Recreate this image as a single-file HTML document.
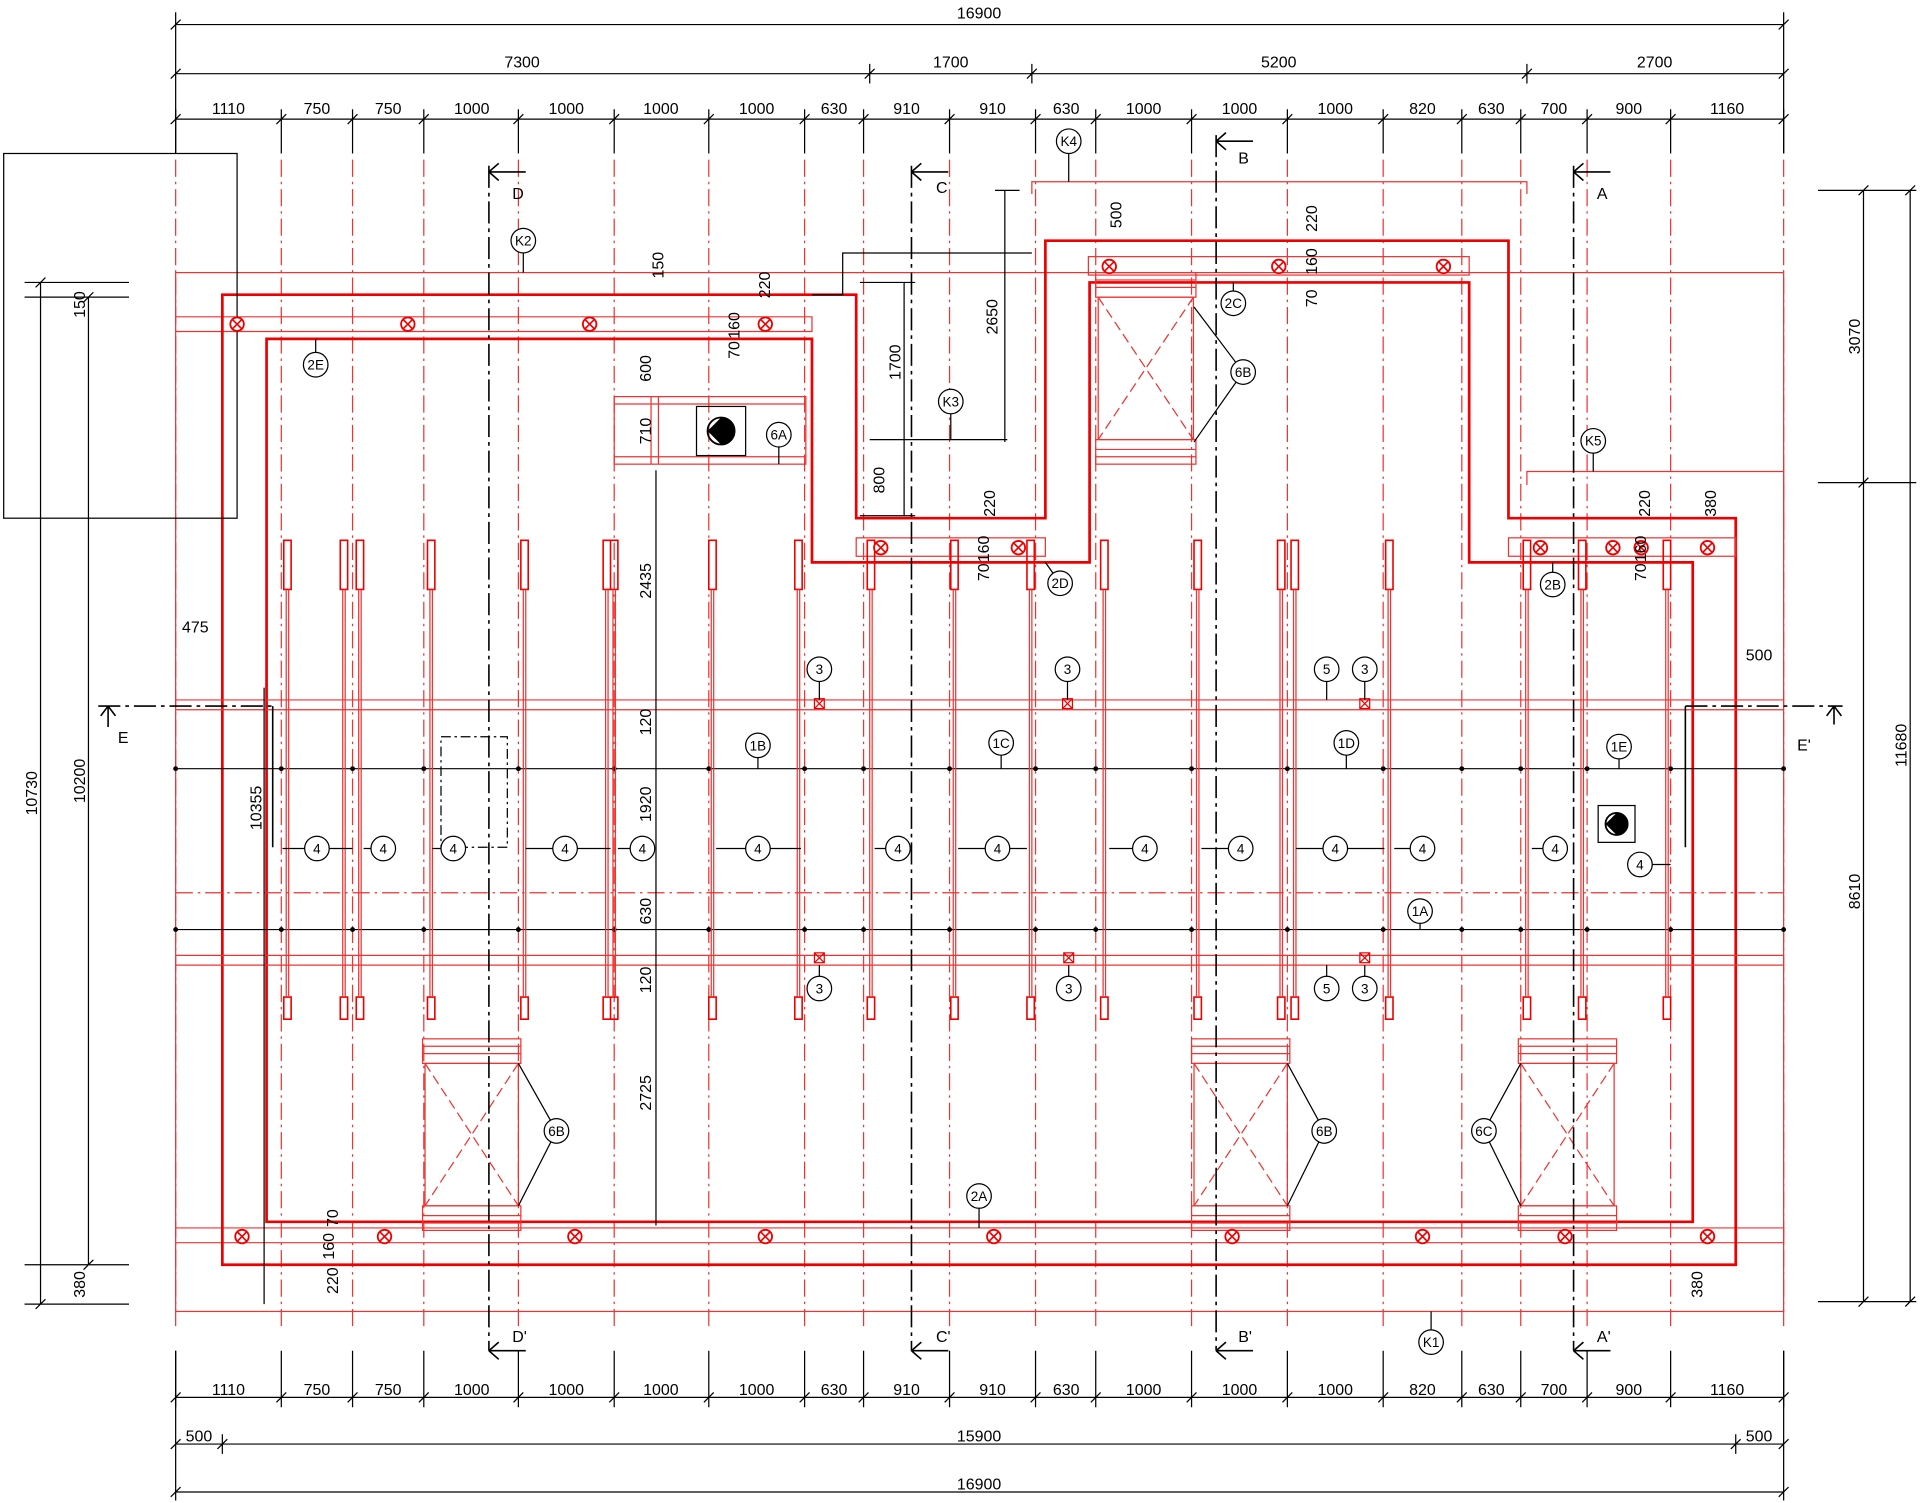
<!DOCTYPE html>
<html><head><meta charset="utf-8"><style>
html,body{margin:0;padding:0;background:#fff}
svg{display:block}
text{font-family:"Liberation Sans",sans-serif;font-size:13px;fill:#000}
.c text{font-size:11px;text-anchor:middle}
.cc circle{fill:#fff;stroke:#000;stroke-width:1}
</style></head><body>
<svg width="1920" height="1503" viewBox="0 0 1563 1224" preserveAspectRatio="none" xmlns="http://www.w3.org/2000/svg" xmlns:xlink="http://www.w3.org/1999/xlink">
<defs>
<g id="ox"><circle cx="0" cy="0" r="5.5" fill="#fff" stroke="#e00" stroke-width="1.5"/><path d="M-4-4L4 4M4-4L-4 4" stroke="#e00" stroke-width="1.3"/></g>
<g id="sx"><rect x="-4" y="-4" width="8" height="8" fill="none" stroke="#e00"/><path d="M-4-4L4 4M4-4L-4 4" stroke="#e00"/></g>
<g id="box6"><rect x="0" y="0" width="76" height="116" fill="none" stroke="#e33"/><rect x="-2" y="-20" width="80" height="20" fill="none" stroke="#e33"/><path d="M-2-14h80M-2-8h80M-2 124h80M-2 130h80" stroke="#e33" fill="none"/><rect x="-2" y="116" width="80" height="20" fill="none" stroke="#e33"/><path d="M0 0L76 116M76 0L0 116" stroke="#e33" stroke-dasharray="8,4" fill="none"/></g>
</defs>
<!-- grid -->
<path d="M143 130V1080M229 130V1080M287 130V1080M345 130V1080M422 130V1080M500 130V1080M577 130V1080M655 130V1080M703 130V1080M773 130V1080M843 130V1080M892 130V1080M970 130V1080M1048 130V1080M1126 130V1080M1190 130V1080M1238 130V1080M1292 130V1080M1360 130V1080M1452 130V1080" stroke="#e33" stroke-dasharray="14,4,2,4" fill="none"/>
<!-- dimension lines -->
<path d="M143 20H1452M143 60H1452M143 97H1452M143 1138H1452M143 1176H1452M143 1215H1452M143 10V125M1452 10V125M143 1100V1222M1452 1100V1222M708 52V68M840 52V68M1243 52V68M181 1168V1184M1413 1168V1184M139 24l8-8M1448 24l8-8M139 64l8-8M704 64l8-8M836 64l8-8M1239 64l8-8M1448 64l8-8M139 1219l8-8M1448 1219l8-8M139 1180l8-8M177 1180l8-8M1409 1180l8-8M1448 1180l8-8" stroke="#000" fill="none"/>
<path d="M143 89V125M229 89V125M287 89V125M345 89V125M422 89V125M500 89V125M577 89V125M655 89V125M703 89V125M773 89V125M843 89V125M892 89V125M970 89V125M1048 89V125M1126 89V125M1190 89V125M1238 89V125M1292 89V125M1360 89V125M1452 89V125M143 1100V1146M229 1100V1146M287 1100V1146M345 1100V1146M422 1100V1146M500 1100V1146M577 1100V1146M655 1100V1146M703 1100V1146M773 1100V1146M843 1100V1146M892 1100V1146M970 1100V1146M1048 1100V1146M1126 1100V1146M1190 1100V1146M1238 1100V1146M1292 1100V1146M1360 1100V1146M1452 1100V1146" stroke="#000" fill="none"/>
<path d="M139 101l8-8M225 101l8-8M283 101l8-8M341 101l8-8M418 101l8-8M496 101l8-8M573 101l8-8M651 101l8-8M699 101l8-8M769 101l8-8M839 101l8-8M888 101l8-8M966 101l8-8M1044 101l8-8M1122 101l8-8M1186 101l8-8M1234 101l8-8M1288 101l8-8M1356 101l8-8M1448 101l8-8M139 1142l8-8M225 1142l8-8M283 1142l8-8M341 1142l8-8M418 1142l8-8M496 1142l8-8M573 1142l8-8M651 1142l8-8M699 1142l8-8M769 1142l8-8M839 1142l8-8M888 1142l8-8M966 1142l8-8M1044 1142l8-8M1122 1142l8-8M1186 1142l8-8M1234 1142l8-8M1288 1142l8-8M1356 1142l8-8M1448 1142l8-8" stroke="#000" fill="none"/>
<!-- side dims -->
<path d="M1517 155V1060M1555 155V1060M1480 155H1560M1480 393H1560M1480 1060H1560M1513 159l8-8M1513 397l8-8M1513 1064l8-8M1551 159l8-8M1551 1064l8-8M33 230V1062M72 242V1030M20 230H105M20 242H105M20 1030H105M20 1062H105M29 234l8-8M29 1066l8-8M68 246l8-8M68 1034l8-8" stroke="#000" fill="none"/>
<!-- walls -->
<rect x="143" y="222" width="1309" height="846" fill="none" stroke="#e33"/>
<polyline points="143,258 661,258 661,270 143,270" fill="none" stroke="#e33"/>
<polyline points="143,1000 1452,1000 1452,1012 143,1012" fill="none" stroke="#e33"/>
<polygon points="181,240 697,240 697,422 851,422 851,196 1228,196 1228,422 1413,422 1413,1030 181,1030" fill="none" stroke="#e00" stroke-width="2.2"/>
<polygon points="217,276 661,276 661,458 887,458 887,230 1196,230 1196,458 1378,458 1378,995 217,995" fill="none" stroke="#e00" stroke-width="2.2"/>
<polyline points="840,158 840,148 1243,148 1243,158" fill="none" stroke="#e33"/>
<polyline points="1243,395 1243,384 1452,384 1452,440" fill="none" stroke="#e33"/>
<rect x="886" y="209" width="310" height="15" fill="none" stroke="#e33"/>
<rect x="697" y="438" width="154" height="15" fill="none" stroke="#e33"/>
<rect x="1228" y="438" width="185" height="15" fill="none" stroke="#e33"/>
<path d="M143 570H1452M143 578H1452M143 778H1452M143 786H1452" stroke="#e33" fill="none"/>
<line x1="143" y1="727" x2="1452" y2="727" stroke="#e33" stroke-dasharray="14,4,2,4"/>
<path d="M143 626H1452M143 757H1452" stroke="#000" fill="none"/>
<path d="M143 626h0M229 626h0M287 626h0M345 626h0M422 626h0M500 626h0M577 626h0M655 626h0M703 626h0M773 626h0M843 626h0M892 626h0M970 626h0M1048 626h0M1126 626h0M1190 626h0M1238 626h0M1292 626h0M1360 626h0M1452 626h0M143 757h0M229 757h0M287 757h0M345 757h0M422 757h0M500 757h0M577 757h0M655 757h0M703 757h0M773 757h0M843 757h0M892 757h0M970 757h0M1048 757h0M1126 757h0M1190 757h0M1238 757h0M1292 757h0M1360 757h0M1452 757h0" stroke="#000" stroke-width="4" stroke-linecap="round"/>
<!-- posts -->
<path d="M231 440h6v40h-6zM277 440h6v40h-6zM290 440h6v40h-6zM348 440h6v40h-6zM424 440h6v40h-6zM491 440h6v40h-6zM497 440h6v40h-6zM577 440h6v40h-6zM647 440h6v40h-6zM706 440h6v40h-6zM774 440h6v40h-6zM836 440h6v40h-6zM896 440h6v40h-6zM972 440h6v40h-6zM1040 440h6v40h-6zM1051 440h6v40h-6zM1128 440h6v40h-6zM1240 440h6v40h-6zM1285 440h6v40h-6zM1354 440h6v40h-6zM231 812h6v18h-6zM277 812h6v18h-6zM290 812h6v18h-6zM348 812h6v18h-6zM424 812h6v18h-6zM491 812h6v18h-6zM497 812h6v18h-6zM577 812h6v18h-6zM647 812h6v18h-6zM706 812h6v18h-6zM774 812h6v18h-6zM836 812h6v18h-6zM896 812h6v18h-6zM972 812h6v18h-6zM1040 812h6v18h-6zM1051 812h6v18h-6zM1128 812h6v18h-6zM1240 812h6v18h-6zM1285 812h6v18h-6zM1354 812h6v18h-6z" stroke="#e00" stroke-width="1.3" fill="none"/>
<path d="M233 480V812M235 480V812M279 480V812M281 480V812M292 480V812M294 480V812M350 480V812M352 480V812M426 480V812M428 480V812M493 480V812M495 480V812M499 480V812M501 480V812M579 480V812M581 480V812M649 480V812M651 480V812M708 480V812M710 480V812M776 480V812M778 480V812M838 480V812M840 480V812M898 480V812M900 480V812M974 480V812M976 480V812M1042 480V812M1044 480V812M1053 480V812M1055 480V812M1130 480V812M1132 480V812M1242 480V812M1244 480V812M1287 480V812M1289 480V812M1356 480V812M1358 480V812" stroke="#e33" fill="none"/>
<!-- black top-left box -->
<rect x="3" y="125" width="190" height="297" fill="none" stroke="#000"/>
<!-- equipment -->
<rect x="500" y="323" width="156" height="55" fill="none" stroke="#e33"/>
<path d="M500 329H656M500 372H656M530 323V378M536 323V378" stroke="#e33" fill="none"/>
<rect x="567" y="331" width="40" height="40" fill="none" stroke="#000"/><circle cx="587" cy="351" r="11" fill="none" stroke="#000" stroke-width="1.5"/><path d="M587,340 A11,11 0 0 1 587,362 L576,351 Z" fill="#000"/>
<rect x="1301" y="656" width="30" height="30" fill="none" stroke="#000"/><circle cx="1316" cy="671" r="9" fill="none" stroke="#000" stroke-width="1.5"/><path d="M1316,662 A9,9 0 0 1 1316,680 L1307,671 Z" fill="#000"/>
<rect x="359" y="600" width="54" height="90" fill="none" stroke="#000" stroke-dasharray="8,3,2,3"/>
<g transform="translate(894,242) scale(1.02,1)"><use xlink:href="#box6"/></g>
<use xlink:href="#box6" x="346" y="866"/><use xlink:href="#box6" x="972" y="866"/><use xlink:href="#box6" x="1238" y="866"/>
<!-- black annotation lines -->
<polyline points="661,240 686,240 686,206 840,206" fill="none" stroke="#000"/>
<polyline points="708,358 820,358 Q840,358 840,330 L840,160" fill="none" stroke="#000"/>
<path d="M534 383V998M215 560V1062M736 230V420M818 155V360M700 230H745M810 155H830M700 420H745" stroke="#000" fill="none"/>
<!-- section lines -->
<path d="M398 135V1100M742 135V1100M990 110V1100M1281 135V1100M80 575H222M1372 575H1500" stroke="#000" stroke-width="1.3" stroke-dasharray="18,4,3,4" fill="none"/>
<path d="M398 140h30M398 140l8-7M398 140l8 7M742 140h30M742 140l8-7M742 140l8 7M990 115h30M990 115l8-7M990 115l8 7M1281 140h30M1281 140l8-7M1281 140l8 7M398 1100h30M398 1100l8-7M398 1100l8 7M742 1100h30M742 1100l8-7M742 1100l8 7M990 1100h30M990 1100l8-7M990 1100l8 7M1281 1100h30M1281 1100l8-7M1281 1100l8 7M88 575v17M88 575l-6 8M88 575l6 8M1493 575v15M1493 575l-6 8M1493 575l6 8M222 575V690M1372 575V690" stroke="#000" stroke-width="1.3" fill="none"/>
<text x="417" y="162" font-size="20">D</text><text x="762" y="157" font-size="20">C</text><text x="1008" y="133" font-size="20">B</text><text x="1300" y="162" font-size="20">A</text>
<text x="417" y="1093" font-size="20">D'</text><text x="762" y="1093" font-size="20">C'</text><text x="1008" y="1093" font-size="20">B'</text><text x="1300" y="1093" font-size="20">A'</text>
<text x="96" y="605" font-size="20">E</text><text x="1463" y="611" font-size="20">E'</text>
<!-- symbols -->
<use xlink:href="#ox" x="193" y="264"/><use xlink:href="#ox" x="332" y="264"/><use xlink:href="#ox" x="480" y="264"/><use xlink:href="#ox" x="623" y="264"/>
<use xlink:href="#ox" x="903" y="217"/><use xlink:href="#ox" x="1041" y="217"/><use xlink:href="#ox" x="1175" y="217"/>
<use xlink:href="#ox" x="717" y="446"/><use xlink:href="#ox" x="829" y="446"/><use xlink:href="#ox" x="1254" y="446"/><use xlink:href="#ox" x="1313" y="446"/><use xlink:href="#ox" x="1336" y="446"/><use xlink:href="#ox" x="1390" y="446"/>
<use xlink:href="#ox" x="197" y="1007"/><use xlink:href="#ox" x="313" y="1007"/><use xlink:href="#ox" x="468" y="1007"/><use xlink:href="#ox" x="623" y="1007"/><use xlink:href="#ox" x="809" y="1007"/><use xlink:href="#ox" x="1003" y="1007"/><use xlink:href="#ox" x="1158" y="1007"/><use xlink:href="#ox" x="1274" y="1007"/><use xlink:href="#ox" x="1390" y="1007"/>
<use xlink:href="#sx" x="667" y="573"/><use xlink:href="#sx" x="869" y="573"/><use xlink:href="#sx" x="1111" y="573"/><use xlink:href="#sx" x="667" y="780"/><use xlink:href="#sx" x="870" y="780"/><use xlink:href="#sx" x="1111" y="780"/>
<!-- leaders -->
<path d="M1012 303L972 250M1012 303L972 360M453 921L422 866M453 921L422 982M1078 921L1048 866M1078 921L1048 982M1208 921L1238 866M1208 921L1238 982M870 115V148M426 196V222M257 297V276M634 354V378M774 327V358M1004 247V230M1297 359V384M863 475L851 458M1264 476V458M617 607V626M815 605V626M1096 605V626M1318 608V626M1156 742V757M797 974V1000M1165 1093V1068M1080 545V570M1080 805V786M1335 704H1360M667 545V570M869 545V570M1111 545V570M667 805V786M870 805V786M1111 805V786M258 691H230M258 691H287M312 691H296M369 691H352M460 691H428M460 691H497M523 691H503M617 691H583M617 691H652M731 691H712M812 691H780M812 691H836M932 691H903M1010 691H978M1087 691H1055M1087 691H1127M1158 691H1135M1266 691H1247" stroke="#000" fill="none"/>
<g class="cc">
<circle cx="870" cy="115" r="10"/><circle cx="426" cy="196" r="10"/><circle cx="257" cy="297" r="10"/><circle cx="634" cy="354" r="10"/><circle cx="774" cy="327" r="10"/><circle cx="1004" cy="247" r="10"/><circle cx="1012" cy="303" r="10"/><circle cx="1297" cy="359" r="10"/><circle cx="863" cy="475" r="10"/><circle cx="1264" cy="476" r="10"/>
<circle cx="667" cy="545" r="10"/><circle cx="869" cy="545" r="10"/><circle cx="1080" cy="545" r="10"/><circle cx="1111" cy="545" r="10"/>
<circle cx="617" cy="607" r="10"/><circle cx="815" cy="605" r="10"/><circle cx="1096" cy="605" r="10"/><circle cx="1318" cy="608" r="10"/>
<circle cx="258" cy="691" r="10"/><circle cx="312" cy="691" r="10"/><circle cx="369" cy="691" r="10"/><circle cx="460" cy="691" r="10"/><circle cx="523" cy="691" r="10"/><circle cx="617" cy="691" r="10"/><circle cx="731" cy="691" r="10"/><circle cx="812" cy="691" r="10"/><circle cx="932" cy="691" r="10"/><circle cx="1010" cy="691" r="10"/><circle cx="1087" cy="691" r="10"/><circle cx="1158" cy="691" r="10"/><circle cx="1266" cy="691" r="10"/><circle cx="1335" cy="704" r="10"/>
<circle cx="1156" cy="742" r="10"/><circle cx="667" cy="805" r="10"/><circle cx="870" cy="805" r="10"/><circle cx="1080" cy="805" r="10"/><circle cx="1111" cy="805" r="10"/>
<circle cx="453" cy="921" r="10"/><circle cx="1078" cy="921" r="10"/><circle cx="1208" cy="921" r="10"/><circle cx="797" cy="974" r="10"/><circle cx="1165" cy="1093" r="10"/>
</g>
<g class="c">
<text x="870" y="119">K4</text><text x="426" y="200">K2</text><text x="257" y="301">2E</text><text x="634" y="358">6A</text>
<text x="774" y="331">K3</text><text x="1004" y="251">2C</text><text x="1012" y="307">6B</text><text x="1297" y="363">K5</text>
<text x="863" y="479">2D</text><text x="1264" y="480">2B</text>
<text x="667" y="549">3</text><text x="869" y="549">3</text><text x="1080" y="549">5</text><text x="1111" y="549">3</text>
<text x="617" y="611">1B</text><text x="815" y="609">1C</text><text x="1096" y="609">1D</text><text x="1318" y="612">1E</text>
<text x="258" y="695">4</text><text x="312" y="695">4</text><text x="369" y="695">4</text><text x="460" y="695">4</text><text x="523" y="695">4</text><text x="617" y="695">4</text><text x="731" y="695">4</text><text x="812" y="695">4</text><text x="932" y="695">4</text><text x="1010" y="695">4</text><text x="1087" y="695">4</text><text x="1158" y="695">4</text><text x="1266" y="695">4</text><text x="1335" y="708">4</text>
<text x="1156" y="746">1A</text>
<text x="667" y="809">3</text><text x="870" y="809">3</text><text x="1080" y="809">5</text><text x="1111" y="809">3</text>
<text x="453" y="925">6B</text><text x="1078" y="925">6B</text><text x="1208" y="925">6C</text><text x="797" y="978">2A</text><text x="1165" y="1097">K1</text>
</g>
<!-- dim texts -->
<g text-anchor="middle">
<text x="797" y="15">16900</text>
<text x="425" y="55">7300</text><text x="774" y="55">1700</text><text x="1041" y="55">5200</text><text x="1347" y="55">2700</text>
<text x="797" y="1213">16900</text>
<text x="162" y="1174">500</text><text x="797" y="1174">15900</text><text x="1432" y="1174">500</text>
<text x="159" y="515">475</text><text x="1432" y="538">500</text>
<text x="186" y="93">1110</text><text x="258" y="93">750</text><text x="316" y="93">750</text><text x="384" y="93">1000</text><text x="461" y="93">1000</text><text x="538" y="93">1000</text><text x="616" y="93">1000</text><text x="679" y="93">630</text><text x="738" y="93">910</text><text x="808" y="93">910</text><text x="868" y="93">630</text><text x="931" y="93">1000</text><text x="1009" y="93">1000</text><text x="1087" y="93">1000</text><text x="1158" y="93">820</text><text x="1214" y="93">630</text><text x="1265" y="93">700</text><text x="1326" y="93">900</text><text x="1406" y="93">1160</text>
<text x="186" y="1136">1110</text><text x="258" y="1136">750</text><text x="316" y="1136">750</text><text x="384" y="1136">1000</text><text x="461" y="1136">1000</text><text x="538" y="1136">1000</text><text x="616" y="1136">1000</text><text x="679" y="1136">630</text><text x="738" y="1136">910</text><text x="808" y="1136">910</text><text x="868" y="1136">630</text><text x="931" y="1136">1000</text><text x="1009" y="1136">1000</text><text x="1087" y="1136">1000</text><text x="1158" y="1136">820</text><text x="1214" y="1136">630</text><text x="1265" y="1136">700</text><text x="1326" y="1136">900</text><text x="1406" y="1136">1160</text>
</g>
<g font-size="12" text-anchor="middle">
<text transform="translate(30,646) rotate(-90)">10730</text>
<text transform="translate(69,636) rotate(-90)">10200</text>
<text transform="translate(213,658) rotate(-90)">10355</text>
<text transform="translate(69,248) rotate(-90)">150</text>
<text transform="translate(69,1046) rotate(-90)">380</text>
<text transform="translate(1514,274) rotate(-90)">3070</text>
<text transform="translate(1514,726) rotate(-90)">8610</text>
<text transform="translate(1552,607) rotate(-90)">11680</text>
<text transform="translate(530,300) rotate(-90)">600</text>
<text transform="translate(530,351) rotate(-90)">710</text>
<text transform="translate(530,473) rotate(-90)">2435</text>
<text transform="translate(530,588) rotate(-90)">120</text>
<text transform="translate(530,655) rotate(-90)">1920</text>
<text transform="translate(530,742) rotate(-90)">630</text>
<text transform="translate(530,798) rotate(-90)">120</text>
<text transform="translate(530,890) rotate(-90)">2725</text>
<text transform="translate(733,295) rotate(-90)">1700</text>
<text transform="translate(812,258) rotate(-90)">2650</text>
<text transform="translate(720,391) rotate(-90)">800</text>
<text transform="translate(913,175) rotate(-90)">500</text>
<text transform="translate(1072,178) rotate(-90)">220</text>
<text transform="translate(1072,213) rotate(-90)">160</text>
<text transform="translate(1072,243) rotate(-90)">70</text>
<text transform="translate(627,232) rotate(-90)">220</text>
<text transform="translate(540,216) rotate(-90)">150</text>
<text transform="translate(602,265) rotate(-90)">160</text>
<text transform="translate(602,285) rotate(-90)">70</text>
<text transform="translate(810,410) rotate(-90)">220</text>
<text transform="translate(805,447) rotate(-90)">160</text>
<text transform="translate(805,466) rotate(-90)">70</text>
<text transform="translate(1343,410) rotate(-90)">220</text>
<text transform="translate(1397,410) rotate(-90)">380</text>
<text transform="translate(1340,447) rotate(-90)">160</text>
<text transform="translate(1340,466) rotate(-90)">70</text>
<text transform="translate(275,992) rotate(-90)">70</text>
<text transform="translate(272,1015) rotate(-90)">160</text>
<text transform="translate(275,1043) rotate(-90)">220</text>
<text transform="translate(1386,1046) rotate(-90)">380</text>
</g>
</svg>
</body></html>
